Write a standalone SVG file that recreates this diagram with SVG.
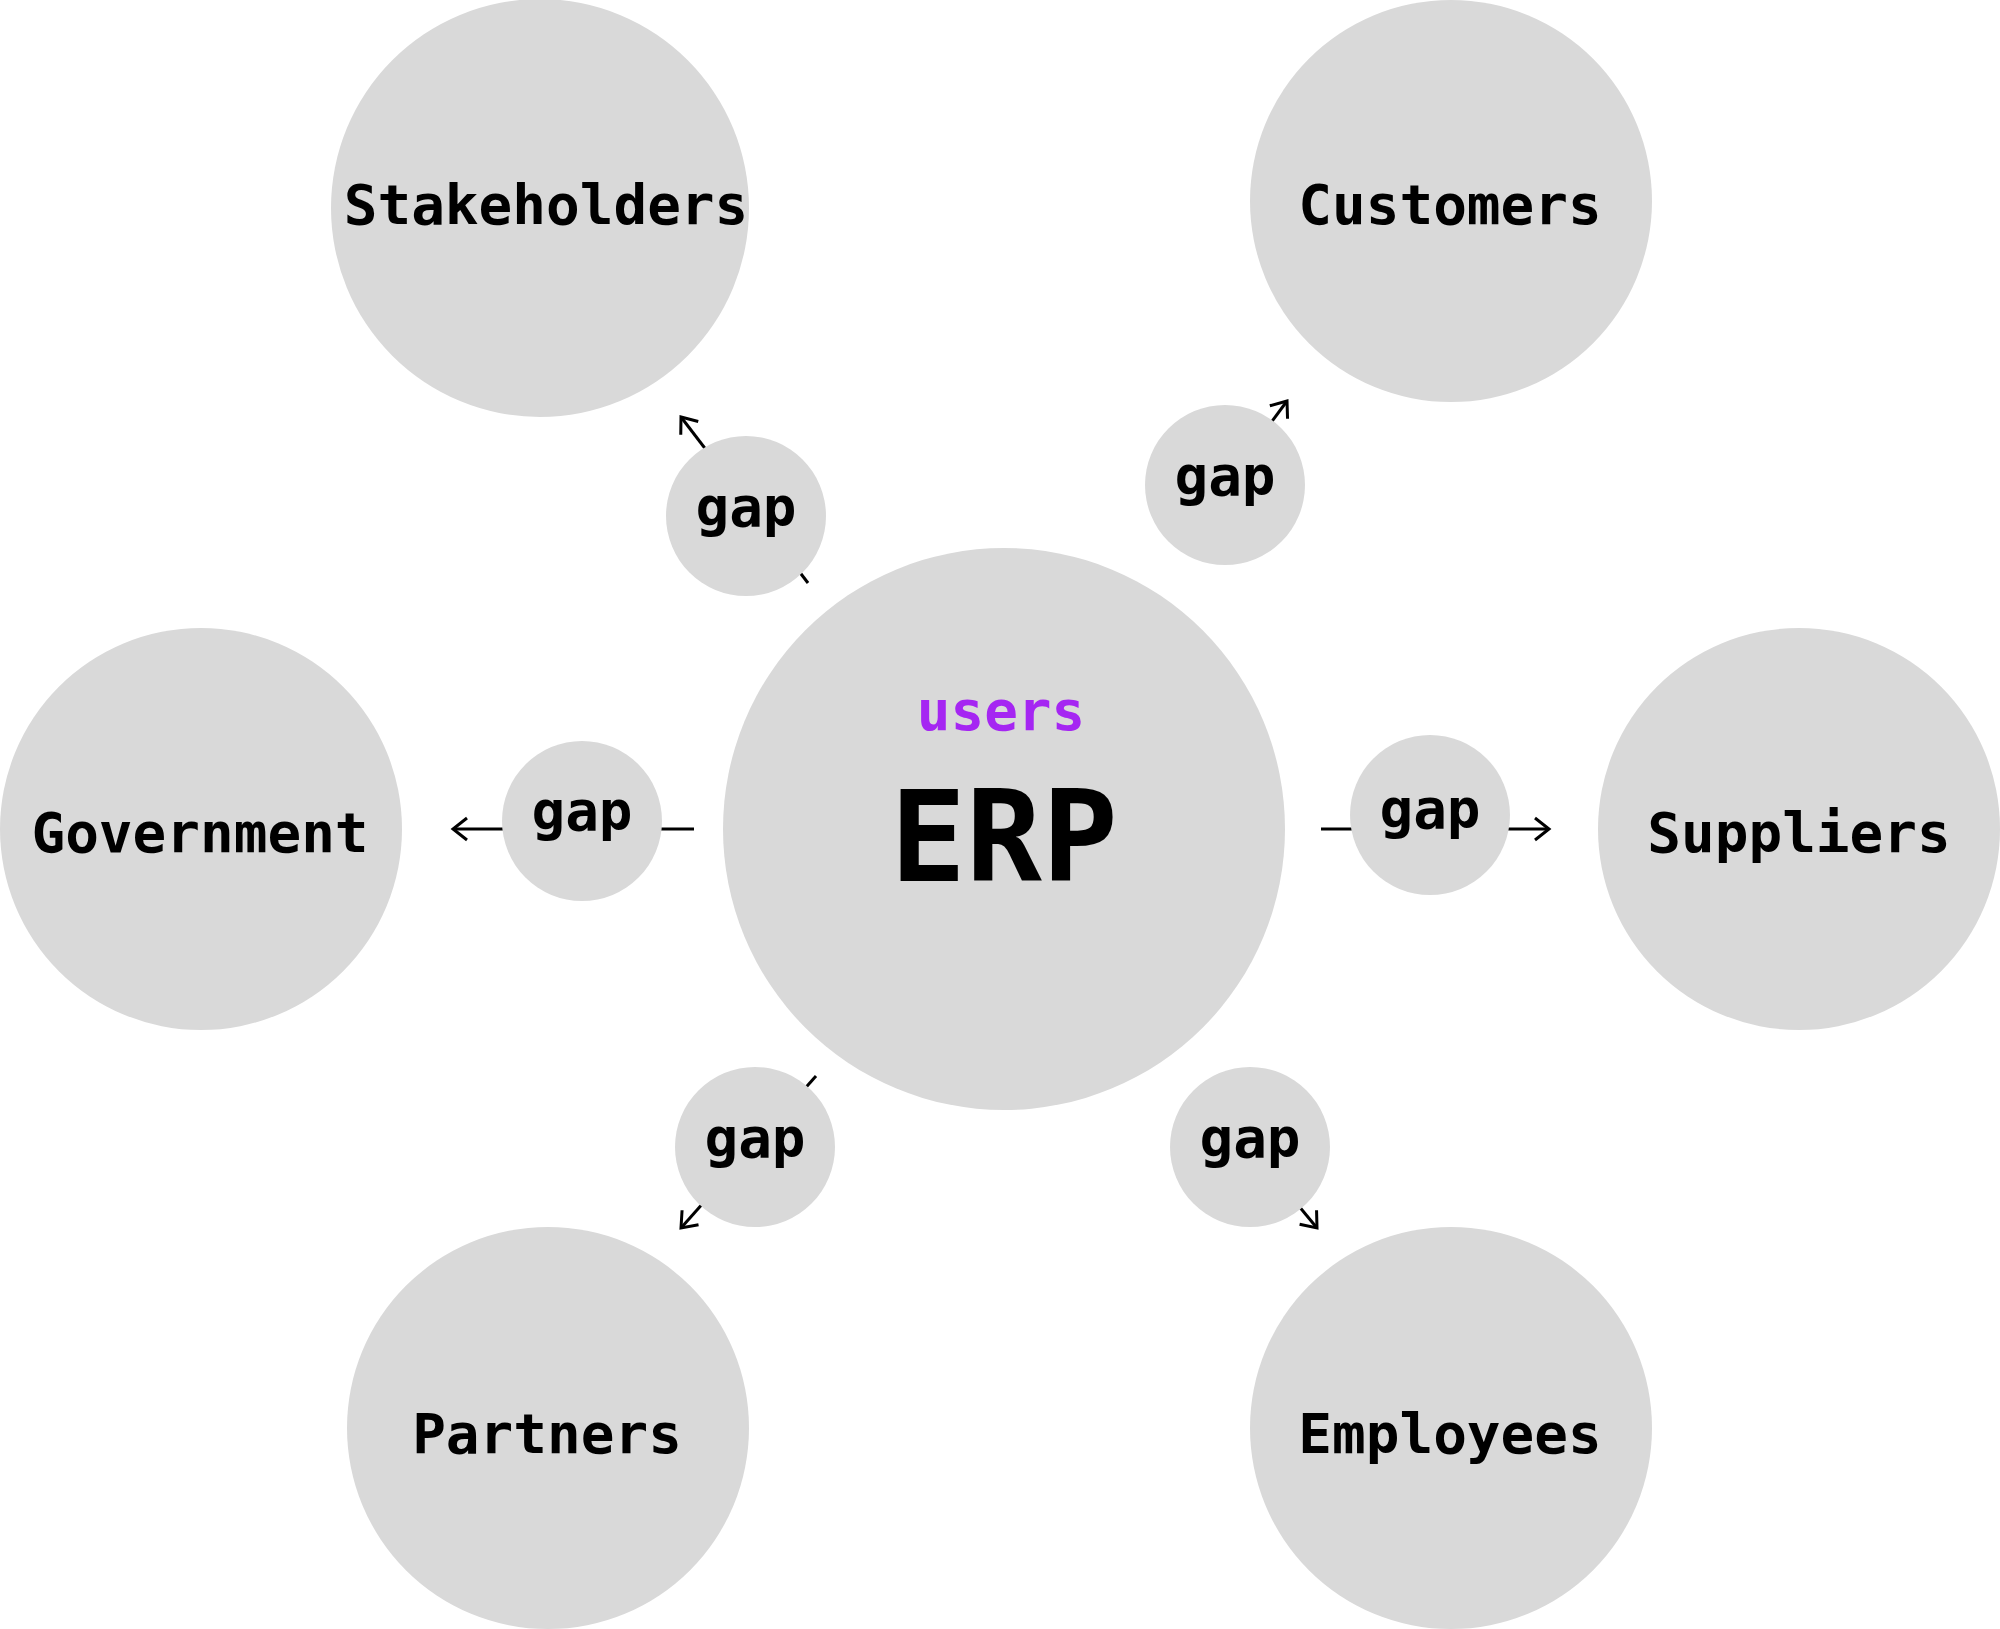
<svg xmlns="http://www.w3.org/2000/svg" width="2000" height="1629" viewBox="0 0 2000 1629">
<style>
.node{fill:#d9d9d9;}
.lbl{font-family:"DejaVu Sans Mono","Liberation Mono",monospace;font-weight:bold;font-size:56px;fill:#000;text-anchor:middle;}
.gap{font-family:"DejaVu Sans Mono","Liberation Mono",monospace;font-weight:bold;font-size:56px;fill:#000;text-anchor:middle;}
.users{font-family:"DejaVu Sans Mono","Liberation Mono",monospace;font-weight:bold;font-size:56px;fill:#a526f2;text-anchor:middle;}
.erp{font-family:"DejaVu Sans Mono","Liberation Mono",monospace;font-weight:bold;font-size:126px;fill:#000;text-anchor:middle;}
.conn{stroke:#000;stroke-width:3;fill:none;}
</style>
<defs>
<marker id="arrow" markerUnits="userSpaceOnUse" viewBox="-20 -15 25 30" markerWidth="25" markerHeight="30" refX="0" refY="0" orient="auto" overflow="visible">
<path d="M-14,-11 L0,0 L-14,11" fill="none" stroke="#000" stroke-width="3"/>
</marker>
</defs>
<rect width="2000" height="1629" fill="#fff"/>
<g id="connectors">
<line class="conn" x1="808" y1="583" x2="681" y2="417" marker-end="url(#arrow)"/>
<line class="conn" x1="1225" y1="485" x2="1287" y2="401" marker-end="url(#arrow)"/>
<line class="conn" x1="694" y1="829" x2="453" y2="829" marker-end="url(#arrow)"/>
<line class="conn" x1="1321" y1="829" x2="1549" y2="829" marker-end="url(#arrow)"/>
<line class="conn" x1="816" y1="1076" x2="681" y2="1228" marker-end="url(#arrow)"/>
<line class="conn" x1="1250" y1="1147" x2="1317" y2="1228" marker-end="url(#arrow)"/>
</g>
<g id="erp">
<circle class="node" cx="1004" cy="829" r="281"/>
<text class="users" x="1001" y="730">users</text>
<text class="erp" x="1004" y="881">ERP</text>
</g>
<g id="stakeholders">
<circle class="node" cx="540" cy="208" r="209"/>
<text class="lbl" x="546" y="224">Stakeholders</text>
</g>
<g id="customers">
<circle class="node" cx="1451" cy="201" r="201"/>
<text class="lbl" x="1450" y="224">Customers</text>
</g>
<g id="government">
<circle class="node" cx="201" cy="829" r="201"/>
<text class="lbl" x="200" y="852">Government</text>
</g>
<g id="suppliers">
<circle class="node" cx="1799" cy="829" r="201"/>
<text class="lbl" x="1799" y="852">Suppliers</text>
</g>
<g id="partners">
<circle class="node" cx="548" cy="1428" r="201"/>
<text class="lbl" x="547" y="1453">Partners</text>
</g>
<g id="employees">
<circle class="node" cx="1451" cy="1428" r="201"/>
<text class="lbl" x="1450" y="1453">Employees</text>
</g>
<g id="gap-stakeholders">
<circle class="node" cx="746" cy="516" r="80"/>
<text class="gap" x="746" y="526">gap</text>
</g>
<g id="gap-customers">
<circle class="node" cx="1225" cy="485" r="80"/>
<text class="gap" x="1225" y="495">gap</text>
</g>
<g id="gap-government">
<circle class="node" cx="582" cy="821" r="80"/>
<text class="gap" x="582" y="830">gap</text>
</g>
<g id="gap-suppliers">
<circle class="node" cx="1430" cy="815" r="80"/>
<text class="gap" x="1430" y="828">gap</text>
</g>
<g id="gap-partners">
<circle class="node" cx="755" cy="1147" r="80"/>
<text class="gap" x="755" y="1157">gap</text>
</g>
<g id="gap-employees">
<circle class="node" cx="1250" cy="1147" r="80"/>
<text class="gap" x="1250" y="1157">gap</text>
</g>
</svg>
